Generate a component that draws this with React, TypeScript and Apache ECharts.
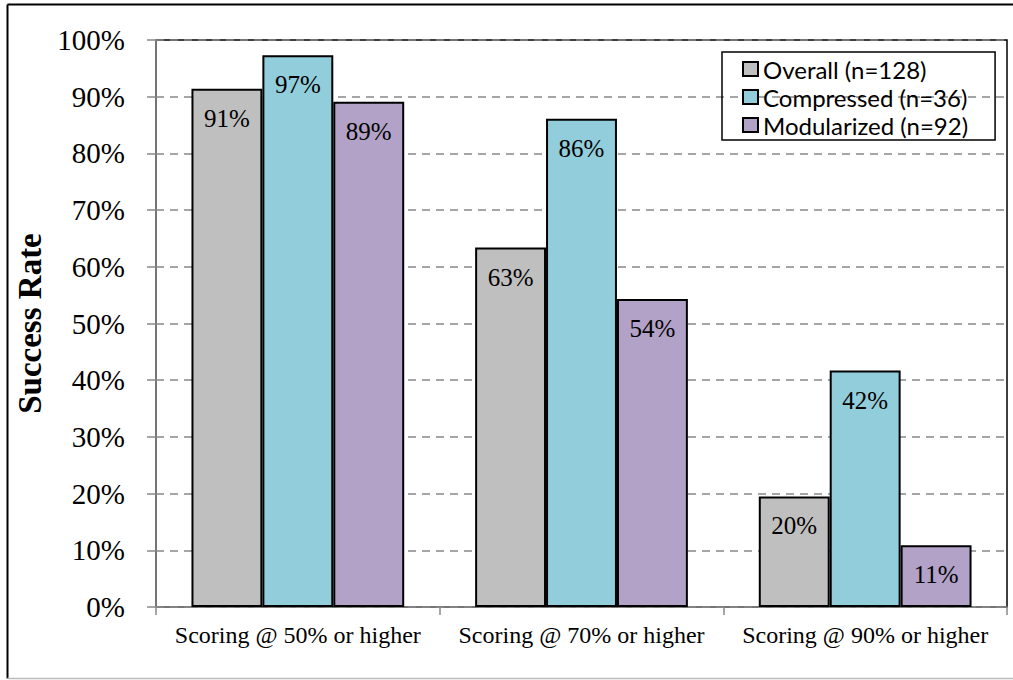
import React, { useEffect, useRef } from "react";
import * as echarts from "echarts";

const categories = [
  "Scoring @ 50% or higher",
  "Scoring @ 70% or higher",
  "Scoring @ 90% or higher",
];
const overall = [91.4, 63.4, 19.5];
const compressed = [97.3, 86.1, 41.7];
const modularized = [89.1, 54.3, 10.9];
const seriesNames = ["Overall (n=128)", "Compressed (n=36)", "Modularized (n=92)"];
const colors = ["#BFBFBF", "#92CDDC", "#B2A2C7"];

const serif = "'Liberation Serif', 'Times New Roman', serif";

export default function App() {
  const ref = useRef<HTMLDivElement>(null);

  useEffect(() => {
    if (!ref.current) return;
    const chart = echarts.init(ref.current, null, { renderer: "svg" });
    const data = [overall, compressed, modularized];

    chart.setOption({
      animation: false,
      backgroundColor: "#ffffff",
      graphic: [
        { type: "line", shape: { x1: 7.5, y1: 4.5, x2: 1013, y2: 4.5 }, style: { stroke: "#000", lineWidth: 2 } },
        { type: "line", shape: { x1: 7.5, y1: 4.5, x2: 7.5, y2: 678.5 }, style: { stroke: "#000", lineWidth: 2 } },
        { type: "line", shape: { x1: 7.5, y1: 678.5, x2: 1013, y2: 678.5 }, style: { stroke: "#bbbbbb", lineWidth: 1.5 } },
      ],
      grid: {
        left: 156,
        top: 40,
        right: 6,
        bottom: 73,
        show: true,
        borderColor: "#000",
        borderWidth: 1.5,
        backgroundColor: "transparent",
      },
      legend: {
        orient: "vertical",
        left: 722,
        top: 52,
        padding: [3, 27, 1, 20],
        borderColor: "#000",
        borderWidth: 1.5,
        itemWidth: 15,
        itemHeight: 14,
        itemGap: 0,
        icon: "rect",
        data: seriesNames,
        textStyle: {
          fontFamily: "Lato, 'Open Sans', sans-serif",
          fontSize: 24,
          color: "#000",
          lineHeight: 28,
        },
      },
      xAxis: {
        type: "category",
        data: categories,
        axisLine: { lineStyle: { color: "#888", width: 1.5 } },
        axisTick: { show: true, length: 8, lineStyle: { color: "#888", width: 1.5 } },
        axisLabel: { interval: 0, fontFamily: serif, fontSize: 24, color: "#000", margin: 16 },
      },
      yAxis: {
        type: "value",
        min: 0,
        max: 100,
        interval: 10,
        name: "Success Rate",
        nameLocation: "middle",
        nameRotate: 90,
        nameGap: 110,
        nameTextStyle: { fontFamily: serif, fontSize: 33, fontWeight: "bold", color: "#000" },
        axisLine: { show: true, lineStyle: { color: "#888", width: 1.5 } },
        axisTick: { show: true, length: 9, lineStyle: { color: "#888", width: 1.5 } },
        axisLabel: {
          fontFamily: serif,
          fontSize: 29,
          color: "#000",
          margin: 31,
          formatter: (v: number) => v + "%",
        },
        splitLine: {
          show: true,
          lineStyle: { color: "#888", width: 1.5, type: [8, 6] },
        },
      },
      series: seriesNames.map((name, i) => ({
        name,
        type: "bar",
        data: data[i],
        barGap: "0%",
        barCategoryGap: "25%",
        itemStyle: { color: colors[i], borderColor: "#000", borderWidth: 2 },
        label: {
          show: true,
          position: "insideTop",
          distance: 17,
          fontFamily: serif,
          fontSize: 25,
          color: "#000",
          formatter: (p: any) => Math.round(p.value) + "%",
        },
      })),
    });

    return () => chart.dispose();
  }, []);

  return (
    <div
      ref={ref}
      style={{ position: "absolute", left: 0, top: 0, width: 1013, height: 680 }}
    />
  );
}
